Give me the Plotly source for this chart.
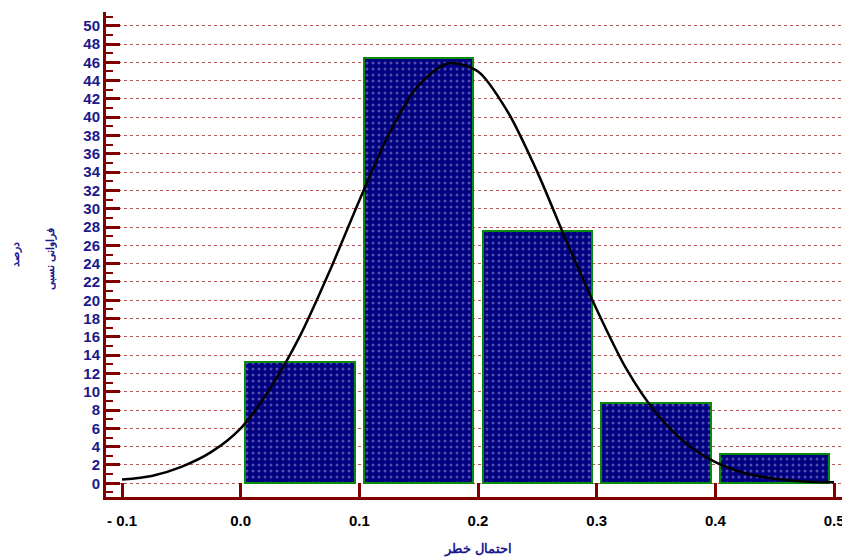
import plotly.graph_objects as go

# Histogram bars (bin centers and percent frequency)
bin_centers = [0.05, 0.15, 0.25, 0.35, 0.45]
bin_values = [13.3, 46.5, 27.6, 8.8, 3.2]

# Fitted curve
curve_x = [-0.1, -0.075, -0.05, -0.025, 0.0, 0.025, 0.05, 0.075, 0.1, 0.125,
           0.15, 0.175, 0.2, 0.225, 0.25, 0.275, 0.3, 0.325, 0.35, 0.375,
           0.4, 0.425, 0.45, 0.475, 0.5]
curve_y = [0.4, 0.8, 1.8, 3.4, 6.0, 10.4, 16.1, 23.2, 30.9, 38.2,
           43.5, 45.9, 45.0, 40.6, 34.0, 26.3, 19.0, 12.5, 7.7, 4.4,
           2.3, 1.1, 0.5, 0.2, 0.1]

x_tick_vals = [-0.1, 0.0, 0.1, 0.2, 0.3, 0.4, 0.5]
x_tick_text = ["- 0.1", "0.0", "0.1", "0.2", "0.3", "0.4", "0.5"]
y_tick_vals = list(range(0, 51, 2))

x_title = "احتمال خطر"
y_title_1 = "درصد"
y_title_2 = "فراوانی نسبی"

DARKRED = "#800000"
NAVY = "#1a1a8c"

fig = go.Figure()
fig.add_trace(go.Bar(
    x=bin_centers, y=bin_values, width=0.092,
    marker=dict(
        color="#000080",
        line=dict(color="#0a8a0a", width=2),
        pattern=dict(shape=".", bgcolor="#000080", fgcolor="#a0a0d8",
                     size=6, solidity=0.2),
    ),
    showlegend=False,
))
fig.add_trace(go.Scatter(
    x=curve_x, y=curve_y, mode="lines",
    line=dict(color="black", width=2.5, shape="spline", smoothing=0.8),
    showlegend=False,
))

fig.update_layout(
    width=842, height=557,
    margin=dict(l=106, r=0, t=12, b=60),
    paper_bgcolor="white", plot_bgcolor="white",
    font=dict(family="Liberation Sans, Arial, sans-serif"),
    bargap=0,
)
fig.update_xaxes(
    range=[-0.1135, 0.5067],
    tickvals=x_tick_vals, ticktext=x_tick_text,
    ticks="inside", ticklen=14, tickwidth=3, tickcolor=DARKRED,
    showline=True, linecolor=DARKRED, linewidth=3,
    showgrid=False, zeroline=False,
    tickfont=dict(size=15, color="black", weight="bold"),
    ticklabelstandoff=8, ticklabeloverflow="allow",
    automargin=False,
)
fig.update_yaxes(
    range=[-1.5, 51.5],
    tickvals=y_tick_vals,
    ticks="inside", ticklen=14, tickwidth=3, tickcolor=DARKRED,
    minor=dict(dtick=1, tick0=1, ticks="inside", ticklen=7, tickwidth=2,
               tickcolor=DARKRED, showgrid=False),
    showline=True, linecolor=DARKRED, linewidth=3,
    showgrid=True, gridcolor="#b85858", griddash="dot", gridwidth=1,
    zeroline=False,
    tickfont=dict(size=15, color=NAVY, weight="bold"),
    automargin=False,
)

fig.add_annotation(
    text=x_title, xref="paper", yref="paper", x=0.505, y=-0.107,
    xanchor="center", yanchor="middle", showarrow=False,
    font=dict(size=13, color=NAVY, weight="bold"),
)
fig.add_annotation(
    text=y_title_1, xref="paper", yref="paper", x=-0.123, y=0.50,
    xanchor="center", yanchor="middle", showarrow=False, textangle=-90,
    font=dict(size=11, color=NAVY, weight="bold"),
)
fig.add_annotation(
    text=y_title_2, xref="paper", yref="paper", x=-0.076, y=0.49,
    xanchor="center", yanchor="middle", showarrow=False, textangle=-90,
    font=dict(size=11, color=NAVY, weight="bold"),
)

fig.write_html("out.html", config={"displayModeBar": False},
               post_script="document.body.style.margin='0';")
